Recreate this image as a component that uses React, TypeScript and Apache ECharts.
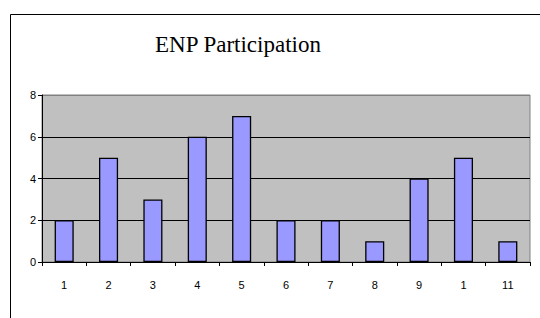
import React, { useEffect, useRef } from "react";
import * as echarts from "echarts";

const categories = ["1", "2", "3", "4", "5", "6", "7", "8", "9", "1", "11"];
const participation = [2, 5, 3, 6, 7, 2, 2, 1, 4, 5, 1];
const yTicks = { min: 0, max: 8, interval: 2 };
const titleText = "ENP Participation";

export default function App() {
  const ref = useRef<HTMLDivElement>(null);
  useEffect(() => {
    if (!ref.current) return;
    const chart = echarts.init(ref.current, undefined, { renderer: "svg" });
    chart.setOption({
      animation: false,
      backgroundColor: "#FFFFFF",
      title: {
        text: titleText,
        left: 233,
        top: 28,
        textAlign: "center",
        textStyle: {
          fontFamily: "Times New Roman",
          fontSize: 23,
          fontWeight: "normal",
          color: "#000",
        },
      },
      graphic: [
        {
          type: "rect",
          shape: { x: 10.5, y: 14.5, width: 700, height: 500 },
          style: { fill: "none", stroke: "#000", lineWidth: 1 },
          silent: true,
          z: -1,
        },
      ],
      grid: {
        left: 42,
        top: 95,
        width: 488,
        height: 167,
        show: true,
        backgroundColor: "#C0C0C0",
        borderColor: "#808080",
        borderWidth: 1,
      },
      xAxis: {
        type: "category",
        data: categories,
        axisLine: { show: true, lineStyle: { color: "#000", width: 1 } },
        axisTick: { show: true, length: 4, alignWithLabel: false, lineStyle: { color: "#000" } },
        axisLabel: {
          margin: 17,
          fontFamily: "Arial",
          fontSize: 11,
          color: "#000",
          interval: 0,
        },
        splitLine: { show: false },
      },
      yAxis: {
        type: "value",
        min: yTicks.min,
        max: yTicks.max,
        interval: yTicks.interval,
        axisLine: { show: true, lineStyle: { color: "#000", width: 1 } },
        axisTick: { show: true, length: 4, lineStyle: { color: "#000" } },
        axisLabel: {
          margin: 6,
          fontFamily: "Arial",
          fontSize: 11,
          color: "#000",
        },
        splitLine: {
          show: true,
          lineStyle: { color: ["#000", "#000", "#000", "#000", "#808080"], width: 1 },
        },
      },
      series: [
        {
          type: "bar",
          data: participation,
          barCategoryGap: "57%",
          itemStyle: { color: "#9999FF", borderColor: "#000", borderWidth: 1.3 },
        },
      ],
    });
    return () => chart.dispose();
  }, []);
  return (
    <div
      ref={ref}
      style={{ position: "fixed", left: 0, top: 0, width: 540, height: 318 }}
    />
  );
}
